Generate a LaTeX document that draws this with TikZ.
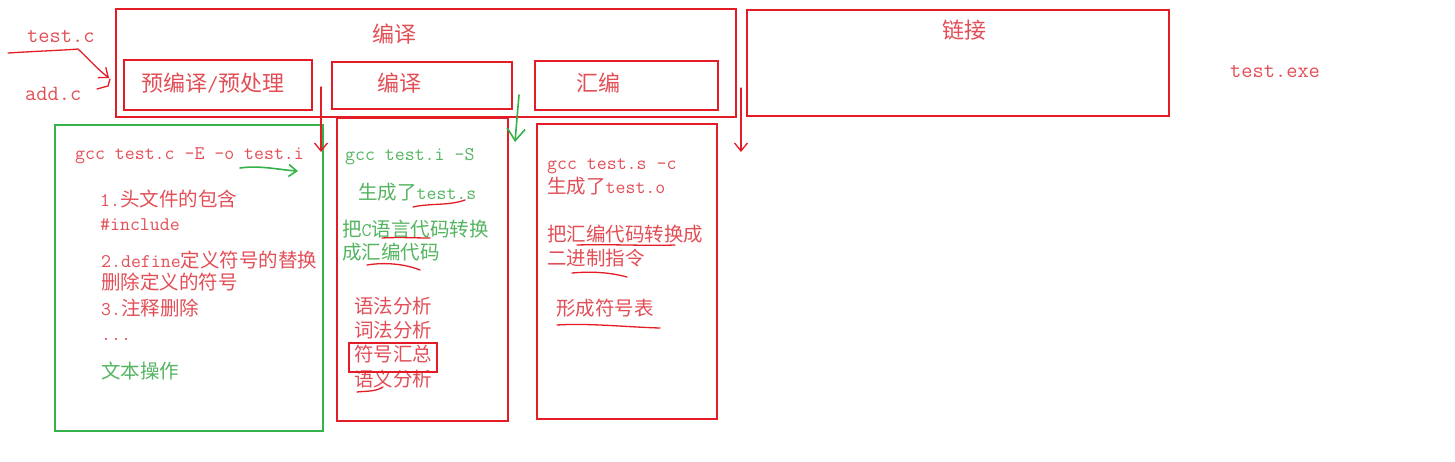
\documentclass[tikz,border=0pt]{standalone}
\usepackage{fontspec}
\setmainfont{Noto Sans CJK SC}
\setmonofont{Latin Modern Mono}[Scale=0.99]
\usepackage{xcolor}
\usepackage{tikz}
\usetikzlibrary{arrows.meta, positioning}
\definecolor{boxred}{RGB}{228,28,38}
\definecolor{txtred}{RGB}{226,78,86}
\definecolor{boxgreen}{RGB}{50,178,72}
\definecolor{txtgreen}{RGB}{84,180,96}
\tikzset{
    rectanglenode/.style = {draw=boxred, rectangle, line width=2.4pt, inner sep=0pt, outer sep=0pt,
      anchor=north west},
    greenrectanglenode/.style = {rectanglenode, draw=boxgreen},
    textnode/.style = {draw=none, fill=none, rectangle, inner sep=0pt, anchor=base west,
      text=txtred, font=\fontsize{19.5}{23}\selectfont},
    greentextnode/.style = {textnode, text=txtgreen},
    bigtextnode/.style = {textnode, font=\fontsize{22}{26}\selectfont},
    redstroke/.style = {boxred, line width=1.3pt, line cap=round},
    greenstroke/.style = {boxgreen, line width=1.6pt, line cap=round},
    connect/.style = {redstroke, -{Straight Barb[length=8pt, width=13pt]}},
    greenconnect/.style = {greenstroke, -{Straight Barb[length=12pt, width=18pt]}}
}
\begin{document}
\begin{tikzpicture}[x=1pt, y=-1pt]
    \useasboundingbox (0,0) rectangle (1455,461);

    \node [name=testc, bigtextnode] at (27,42) {\texttt{test.c}};
    \node [name=addc, bigtextnode] at (25,100) {\texttt{add.c}};

    \node [name=compile, rectanglenode, line width=2.7pt, minimum width=620pt, minimum height=108pt] at (116,9) {};
    \node [name=compiletitle, bigtextnode] at (372,42) {编译};
    \node [name=link, rectanglenode, line width=2.7pt, minimum width=422pt, minimum height=106pt] at (747,10) {};
    \node [name=linktitle, bigtextnode] at (942,38) {链接};
    \node [name=exe, bigtextnode] at (1230,77) {\texttt{test.exe}};

    \node [name=pre, rectanglenode, minimum width=188pt, minimum height=50pt] at (124,60) {};
    \node [name=pretitle, bigtextnode] at (141,91) {预编译\texttt{/}预处理};
    \node [name=comp, rectanglenode, minimum width=180pt, minimum height=47pt] at (332,62) {};
    \node [name=comptitle, bigtextnode] at (377,91) {编译};
    \node [name=asm, rectanglenode, minimum width=183pt, minimum height=49pt] at (535,61) {};
    \node [name=asmtitle, bigtextnode] at (576,91) {汇编};

    \node [name=prebox, greenrectanglenode, line width=2.6pt, minimum width=268pt, minimum height=306pt] at (55,125) {};
    \node [name=pre1, textnode] at (75,159) {\texttt{gcc test.c -E -o test.i}};
    \node [name=pre2, textnode] at (100,206) {\texttt{1.}头文件的包含};
    \node [name=pre3, textnode] at (100,230) {\texttt{\#include}};
    \node [name=pre4, textnode] at (101,267) {\texttt{2.define}定义符号的替换};
    \node [name=pre5, textnode] at (101,289) {删除定义的符号};
    \node [name=pre6, textnode] at (101,315) {\texttt{3.}注释删除};
    \node [name=pre7, textnode] at (101,340) {\texttt{...}};
    \node [name=pre8, greentextnode] at (101,378) {文本操作};

    \node [name=compbox, rectanglenode, minimum width=171pt, minimum height=303pt] at (337,118) {};
    \node [name=comp1, greentextnode] at (345,160) {\texttt{gcc test.i -S}};
    \node [name=comp2, greentextnode] at (358,199) {生成了\texttt{test.s}};
    \node [name=comp3, greentextnode] at (342,236) {把\texttt{C}语言代码转换};
    \node [name=comp4, greentextnode] at (342,259) {成汇编代码};
    \node [name=comp5, textnode] at (354,313) {语法分析};
    \node [name=comp6, textnode] at (354,337) {词法分析};
    \node [name=comp7, textnode] at (354,361) {符号汇总};
    \node [name=comp8, textnode] at (354,386) {语义分析};
    \node [name=symbox, rectanglenode, minimum width=88pt, minimum height=29pt] at (349,343) {};

    \node [name=asmbox, rectanglenode, minimum width=180pt, minimum height=295pt] at (537,124) {};
    \node [name=asm1, textnode] at (547,169) {\texttt{gcc test.s -c}};
    \node [name=asm2, textnode] at (547,193) {生成了\texttt{test.o}};
    \node [name=asm3, textnode] at (547,241) {把汇编代码转换成};
    \node [name=asm4, textnode] at (547,265) {二进制指令};
    \node [name=asm5, textnode] at (556,315) {形成符号表};

    \coordinate (srcstart) at (8,53);
    \coordinate (srcend) at (109,78);
    \coordinate (addstart) at (97,89);
    \draw [connect] (srcstart) .. controls (40,51) and (68,50) .. (78,49)
        .. controls (88,58) and (96,68) .. (srcend);
    \draw [redstroke] (addstart) -- (108,86) -- (110,79);

    \coordinate (prearrowtop) at (321,87);
    \coordinate (prearrowend) at (321,152);
    \draw [connect] (prearrowtop) -- (prearrowend);
    \coordinate (comparrowtop) at (519,95);
    \coordinate (comparrowend) at (515,142);
    \draw [greenconnect] (comparrowtop) -- (comparrowend);
    \coordinate (asmarrowtop) at (741,88);
    \coordinate (asmarrowend) at (741,152);
    \draw [connect] (asmarrowtop) -- (asmarrowend);

    \draw [greenconnect, -{Straight Barb[length=8pt, width=12pt]}] (240,168) .. controls (260,165) and (280,170) .. (298,171);

    \draw [redstroke] (413,207) .. controls (430,203) and (448,206) .. (465,200);
    \draw [redstroke] (382,238) .. controls (400,237) and (415,238) .. (430,238);
    \draw [redstroke] (367,265) .. controls (385,262) and (405,264) .. (420,270);
    \draw [redstroke] (357,392) .. controls (365,391) and (375,392) .. (383,387);
    \draw [redstroke] (577,245) .. controls (610,244) and (645,246) .. (675,245);
    \draw [redstroke] (572,273) .. controls (595,271) and (612,273) .. (627,277);
    \draw [redstroke] (557,325) .. controls (590,323) and (625,327) .. (660,328);
\end{tikzpicture}
\end{document}
